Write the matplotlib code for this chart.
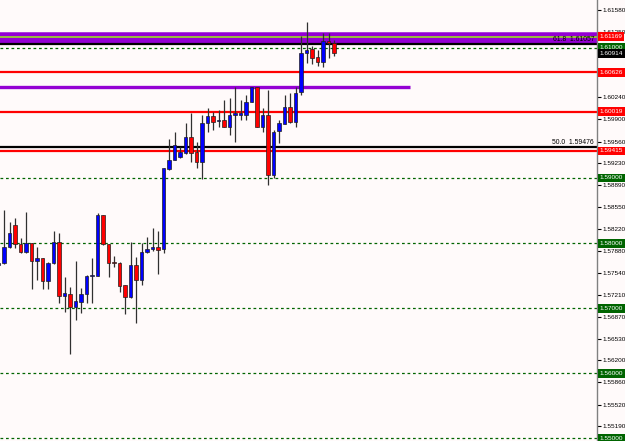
import matplotlib
matplotlib.use('Agg')
import matplotlib.pyplot as plt

# ---- data (EURUSD-like candles) ----
bar_index = list(range(-1, 61))
opens = [1.57663, 1.57699, 1.57944, 1.58278, 1.57986, 1.57868, 1.57997, 1.57729, 1.57766, 1.57422,
         1.57699, 1.58021, 1.57187, 1.57218, 1.57023, 1.57100, 1.57213, 1.57494, 1.57499, 1.58431,
         1.57986, 1.57709, 1.57699, 1.57351, 1.57176, 1.57663, 1.57433, 1.57863, 1.57905, 1.57935,
         1.57905, 1.59133, 1.59276, 1.59318, 1.59388, 1.59634, 1.59404, 1.59250, 1.59849, 1.59952,
         1.59871, 1.59891, 1.59788, 1.59972, 1.59972, 1.59968, 1.60172, 1.60393, 1.59788, 1.59968,
         1.59046, 1.59726, 1.59829, 1.60086, 1.59865, 1.60321, 1.60915, 1.60977, 1.60854, 1.60786,
         1.61104, 1.61069]
highs = [1.57740, 1.58508, 1.58329, 1.58381, 1.58074, 1.58473, 1.57997, 1.57935, 1.57771, 1.57709,
         1.58190, 1.58160, 1.57474, 1.57330, 1.57729, 1.57305, 1.57510, 1.57766, 1.58458, 1.58431,
         1.57986, 1.57802, 1.57709, 1.57351, 1.58021, 1.57791, 1.58006, 1.58089, 1.58227, 1.58190,
         1.59153, 1.59594, 1.59711, 1.59481, 1.59849, 1.59994, 1.59557, 1.59968, 1.60070, 1.60018,
         1.60044, 1.60198, 1.60224, 1.60393, 1.60198, 1.60275, 1.60402, 1.60402, 1.60070, 1.60352,
         1.59737, 1.59891, 1.60275, 1.60301, 1.60393, 1.61181, 1.61401, 1.61027, 1.60966, 1.61222,
         1.61222, 1.61120]
lows = [1.57637, 1.57679, 1.57920, 1.57920, 1.57843, 1.57843, 1.57290, 1.57433, 1.57290, 1.57299,
        1.57679, 1.57075, 1.56946, 1.56296, 1.56819, 1.56921, 1.57075, 1.57075, 1.57494, 1.57971,
        1.57484, 1.57637, 1.57253, 1.56911, 1.57160, 1.56777, 1.57356, 1.57850, 1.57883, 1.57525,
        1.57843, 1.59123, 1.59270, 1.59302, 1.59368, 1.59250, 1.59149, 1.58980, 1.59711, 1.59737,
        1.59788, 1.59780, 1.59660, 1.59557, 1.59891, 1.59891, 1.60165, 1.59780, 1.59711, 1.58892,
        1.58995, 1.59533, 1.59829, 1.59840, 1.59788, 1.60275, 1.60771, 1.60751, 1.60720, 1.60700,
        1.60838, 1.60874]
closes = [1.57699, 1.57944, 1.58160, 1.57986, 1.57868, 1.57997, 1.57729, 1.57766, 1.57422, 1.57699,
          1.58021, 1.57187, 1.57229, 1.57023, 1.57110, 1.57218, 1.57499, 1.57510, 1.58431, 1.57986,
          1.57699, 1.57699, 1.57345, 1.57176, 1.57663, 1.57433, 1.57863, 1.57905, 1.57935, 1.57894,
          1.59149, 1.59276, 1.59507, 1.59404, 1.59634, 1.59388, 1.59250, 1.59849, 1.59952, 1.59865,
          1.59886, 1.59788, 1.59968, 1.59994, 1.59994, 1.60172, 1.60393, 1.59788, 1.59968, 1.59046,
          1.59711, 1.59840, 1.60086, 1.59865, 1.60310, 1.60915, 1.60966, 1.60848, 1.60786, 1.61104,
          1.61069, 1.60914]

tick_values = [1.61580, 1.61250, 1.60910, 1.60580, 1.60240, 1.59900, 1.59560, 1.59230, 1.58890,
               1.58550, 1.58220, 1.57880, 1.57540, 1.57210, 1.56870, 1.56530, 1.56200, 1.55860,
               1.55520, 1.55190]
round_levels = [1.61000, 1.59000, 1.58000, 1.57000, 1.56000, 1.55000]
red_levels = [1.60626, 1.60019, 1.59415]
fib_levels = [1.61057, 1.59476]
fib_names = ['61.8', '50.0']
purple_band_level = 1.61150
zone_level = 1.61169
purple_level = 1.60400
current_price = 1.60914

# ---- figure ----
W, H = 625, 441
fig = plt.figure(figsize=(W / 100, H / 100), dpi=100)
fig.patch.set_facecolor('#FFFAFA')
ax = fig.add_axes([0, 0, 597 / W, 1])
ax.set_facecolor('#FFFAFA')
ax.set_xlim(-0.73, 107.8)
ax.set_ylim(1.54960, 1.61734)

FONT = 'Liberation Sans'
FS = 4.6

# horizontal levels
ax.axhline(purple_band_level, color='#9400D3', lw=9, zorder=1)
ax.axhline(zone_level, color='#9ACD32', lw=1.3, zorder=1.1)
for lv in fib_levels:
    ax.axhline(lv, color='black', lw=1.6, zorder=1.2)
for lv in round_levels:
    ax.axhline(lv, color='#006400', lw=0.9, ls=(0, (2.2, 2.2)), zorder=1)
for lv in red_levels:
    ax.axhline(lv, color='#FF0000', lw=1.6, zorder=1.2)
ax.hlines(purple_level, -1, 73.8, color='#9400D3', lw=2.4, zorder=1.2)

for lv, nm in zip(fib_levels, fib_names):
    ax.text(0.995, lv + 0.00022, f'{nm}  {lv:.5f}', transform=ax.get_yaxis_transform(),
            ha='right', va='bottom', fontsize=FS + 0.3, family=FONT, color='black', zorder=5)

# candles
for x, o, h, l, c in zip(bar_index, opens, highs, lows, closes):
    ax.vlines(x, l, h, color='#303030', lw=0.9, zorder=3)
    col = '#0000FF' if c >= o else '#FF0000'
    lo_, hi_ = min(o, c), max(o, c)
    ht = max(hi_ - lo_, 0.00004)
    ax.bar(x, ht, bottom=lo_, width=0.62, color=col, edgecolor='#202020', lw=0.5, zorder=4)

# right axis
for s in ['left', 'top', 'bottom']:
    ax.spines[s].set_visible(False)
ax.spines['right'].set_color('#808080')
ax.spines['right'].set_linewidth(1)
ax.set_xticks([])
ax.yaxis.tick_right()
ax.set_yticks(tick_values)
ax.set_yticklabels([f'{v:.5f}' for v in tick_values])
ax.tick_params(axis='y', length=3, width=0.8, color='black', pad=1.0, labelsize=FS)
for t in ax.get_yticklabels():
    t.set_family(FONT)

# price boxes
boxes = [(zone_level, '#FF0000'), (1.61000, '#006400'), (current_price, '#000000'),
         (red_levels[0], '#FF0000'), (red_levels[1], '#FF0000'), (red_levels[2], '#FF0000')]
boxes += [(lv, '#006400') for lv in round_levels[1:]]
for lv, fc in boxes:
    ax.text(1.0045, lv, f'{lv:.5f}', transform=ax.get_yaxis_transform(), ha='left', va='center',
            fontsize=FS, family=FONT, color='white', clip_on=False, zorder=10,
            bbox=dict(boxstyle='square,pad=0.3', fc=fc, ec='none'))

fig.savefig('out.png', dpi=100, facecolor=fig.get_facecolor())
